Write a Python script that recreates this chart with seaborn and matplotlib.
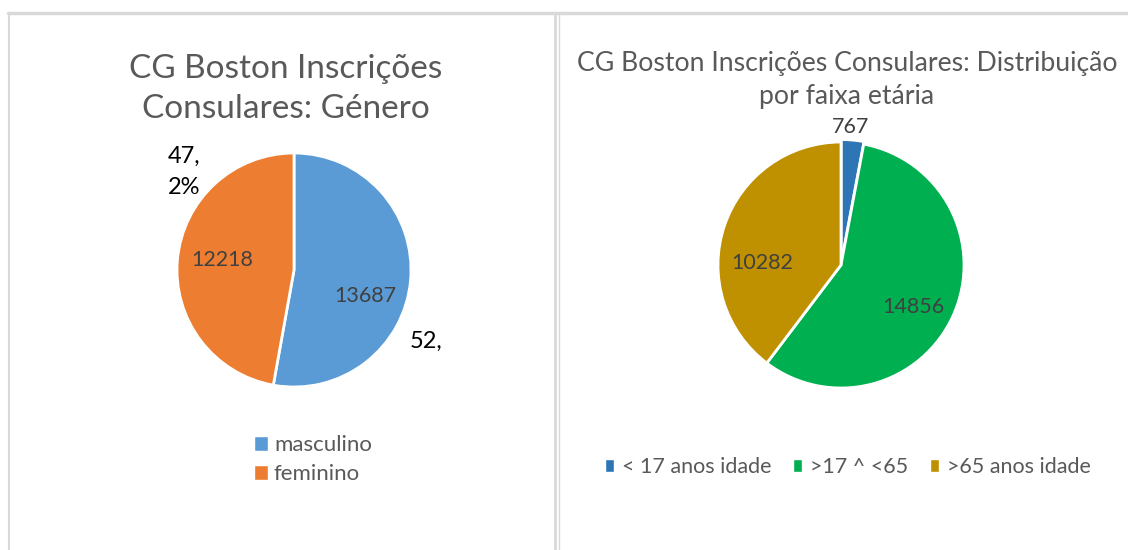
import matplotlib
matplotlib.use("Agg")
import matplotlib.pyplot as plt
from matplotlib.lines import Line2D
from matplotlib.patches import Patch
import seaborn as sns

# data
gender_labels = ["masculino", "feminino"]
gender_values = [13687, 12218]
gender_outer = ["52,", "47,\n2%"]
gender_colors = ["#5B9BD5", "#ED7D31"]

age_labels = ["< 17 anos idade", ">17 ^ <65", ">65 anos idade"]
age_values = [767, 14856, 10282]
age_colors = ["#2E75B6", "#00B050", "#BF9000"]

title_left = "CG Boston Inscrições\nConsulares: Género"
title_right = "CG Boston Inscrições Consulares: Distribuição\npor faixa etária"

sns.set_theme(style="white")
plt.rcParams["font.family"] = ["Lato", "DejaVu Sans"]

W, H = 1128, 550
fig = plt.figure(figsize=(W / 100, H / 100), dpi=100)
fig.patch.set_facecolor("white")

GRID = "#D9D9D9"
TXT = "#595959"
LBL = "#404040"


def fx(x):
    return x / W


def fy(y):
    return 1 - y / H


# panel borders
fig.add_artist(Line2D([fx(8), 1], [fy(13), fy(13)], color=GRID, lw=2.5))
fig.add_artist(Line2D([fx(9), fx(9)], [fy(13), 0], color=GRID, lw=1.5))
fig.add_artist(Line2D([fx(555), fx(555)], [fy(13), 0], color=GRID, lw=2))
fig.add_artist(Line2D([fx(559), fx(559)], [fy(13), 0], color=GRID, lw=1))


def pie_axes(cx, cy, r):
    return fig.add_axes([fx(cx - r), fy(cy + r), 2 * r / W, 2 * r / H])


def draw_pie(ax, values, colors, explode=None):
    total = sum(values)
    wedges, texts, autotexts = ax.pie(
        values, colors=colors, startangle=90, counterclock=False,
        explode=explode,
        wedgeprops=dict(edgecolor="white", linewidth=2),
        autopct=lambda p: f"{round(p * total / 100)}",
        textprops=dict(color=LBL, fontsize=15.5))
    ax.set_xlim(-1, 1)
    ax.set_ylim(-1, 1)
    ax.axis("off")
    return wedges, autotexts


# ---- left: gender
ax1 = pie_axes(294, 270, 117)
w1, a1 = draw_pie(ax1, gender_values, gender_colors)
a1[0].set_position((0.61, -0.22))
a1[1].set_position((-0.615, 0.085))
outer_pos = [(1.13, -0.61), (-0.94, 0.84)]
for txt, pos in zip(gender_outer, outer_pos):
    ax1.text(pos[0], pos[1], txt, ha="center", va="center", fontsize=17,
             color="black", linespacing=1.6)

fig.text(fx(286), fy(89), title_left, ha="center", va="center",
         fontsize=24, color=TXT, linespacing=1.42)

fig.legend([Patch(facecolor=c) for c in gender_colors], gender_labels,
           loc="upper left", bbox_to_anchor=(fx(234), fy(415)),
           frameon=False, fontsize=16, labelcolor=TXT,
           handlelength=0.65, handleheight=0.65, handletextpad=0.25,
           labelspacing=0.4)

# ---- right: age groups
ax2 = pie_axes(841, 265, 123)
w2, a2 = draw_pie(ax2, age_values, age_colors, explode=[0.02, 0, 0])
a2[0].set_position((0.08, 1.12))
a2[1].set_position((0.59, -0.34))
a2[2].set_position((-0.64, 0.02))

fig.text(fx(847), fy(80), title_right, ha="center", va="center",
         fontsize=19.2, color=TXT, linespacing=1.36)

fig.legend([Patch(facecolor=c) for c in age_colors], age_labels,
           loc="center", bbox_to_anchor=(fx(848), fy(467)), ncol=3,
           frameon=False, fontsize=15.5, labelcolor=TXT,
           handlelength=0.4, handleheight=0.55, handletextpad=0.4,
           columnspacing=1.0)

fig.savefig("out.png", dpi=100, facecolor="white")
